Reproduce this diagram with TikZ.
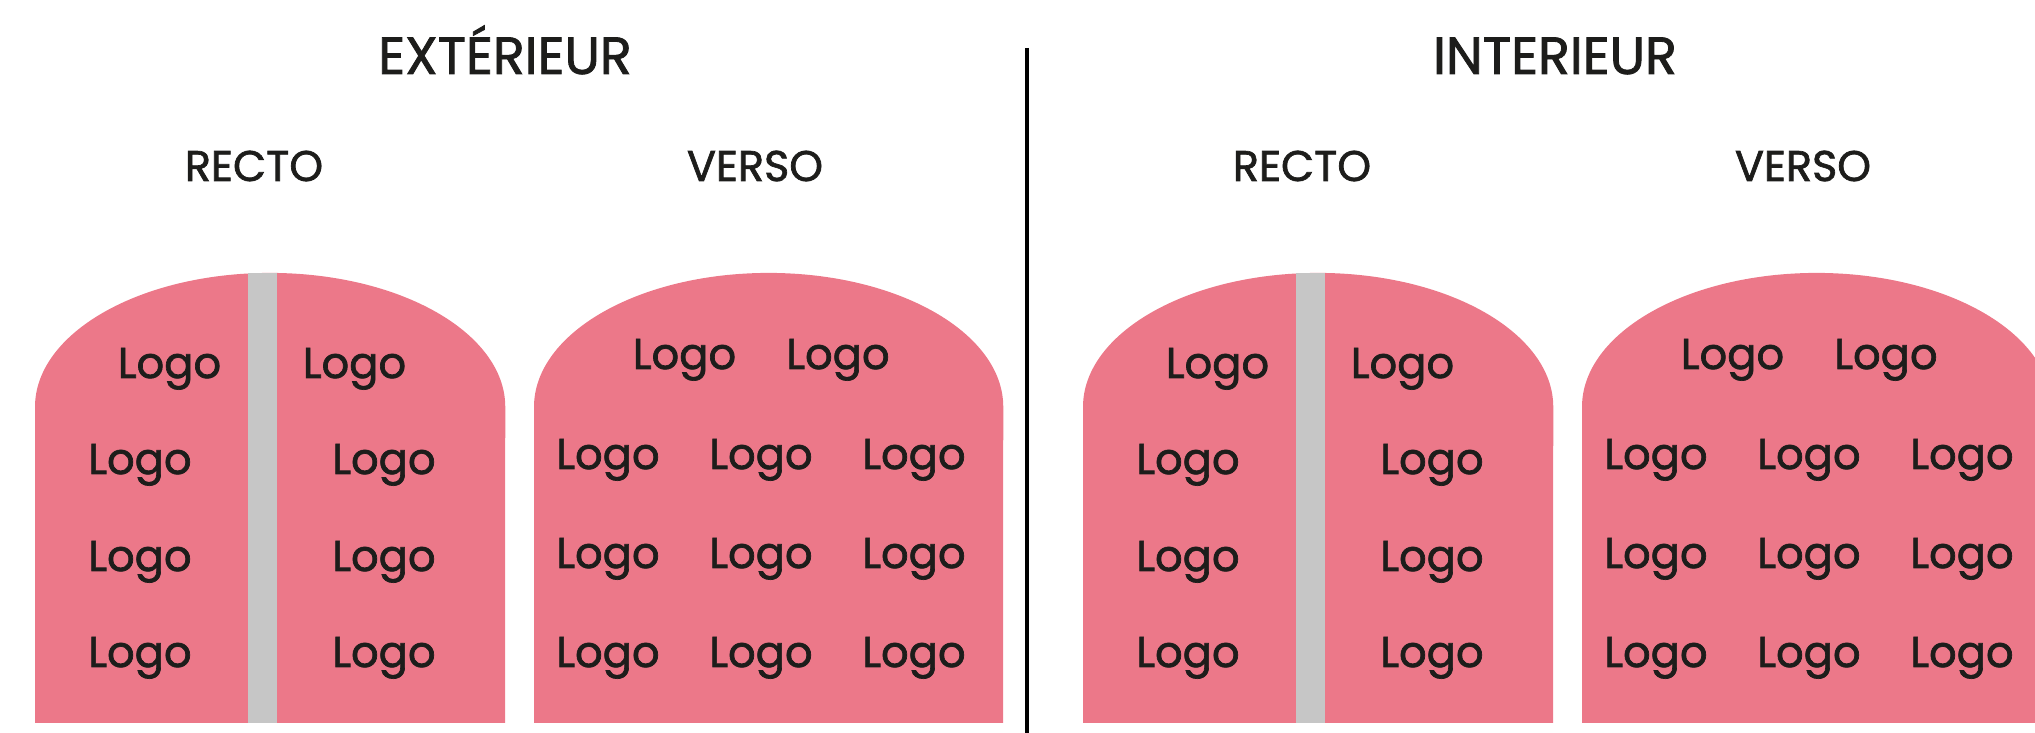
\documentclass[tikz,border=0pt]{standalone}
\usepackage{fontspec}
\setmainfont{Poppins}[FakeBold=1.6]
\usetikzlibrary{positioning}
\definecolor{rose}{HTML}{EC7889}
\definecolor{spine}{HTML}{C6C6C6}
\definecolor{ink}{HTML}{1D1D1B}

\begin{document}
\begin{tikzpicture}[
    x=0.01cm, y=0.01cm,
    title/.style={anchor=base, inner sep=0, text=ink, font=\fontsize{14.9}{16}\selectfont},
    side/.style={anchor=base, inner sep=0, text=ink, font=\fontsize{12.2}{14}\selectfont},
    logo/.style={anchor=base, inner sep=0, text=ink, font=\fontsize{12.3}{14}\selectfont}
]
\useasboundingbox (0,0) rectangle (2035,733);
\clip (0,0) rectangle (2035,733);

% both halves: exterieur, then interieur
\foreach \dx/\pre in {0/e,1048/i} {
\begin{scope}[shift={(\dx,0)}]
    % recto panel with spine
    \fill[rose] (35,10) -- (35,326) arc[start angle=180, end angle=0, x radius=2.35cm, y radius=1.34cm] -- (505,10) -- cycle;
    \fill[spine] (248,10) rectangle (277,460);
    % verso panel
    \fill[rose] (534,10) -- (534,326) arc[start angle=180, end angle=0, x radius=2.345cm, y radius=1.34cm] -- (1003,10) -- cycle;

    \node[side] (\pre-recto) at (254,552) {RECTO};
    \node[side] (\pre-verso) at (755,552) {VERSO};

    \node[logo] (\pre-r1a) at (169.5,355) {Logo};
    \node[logo] (\pre-r1b) at (354.5,355) {Logo};
    \foreach \y [count=\k from 2] in {259,162,66} {
        \node[logo] (\pre-r\k a) at (140,\y) {Logo};
        \node[logo] (\pre-r\k b) at (384,\y) {Logo};
    }

    \node[logo] (\pre-v1a) at (684.5,364) {Logo};
    \node[logo] (\pre-v1b) at (838,364) {Logo};
    \foreach \y [count=\k from 2] in {264,165,66} {
        \node[logo] (\pre-v\k a) at (608,\y) {Logo};
        \node[logo] (\pre-v\k b) at (761,\y) {Logo};
        \node[logo] (\pre-v\k c) at (914,\y) {Logo};
    }
\end{scope}
}

\node[title] (ext) at (505,659) {EXTÉRIEUR};
\node[title] (int) at (1555,659) {INTERIEUR};

% separator
\coordinate (sep-top) at (1027,685);
\coordinate (sep-bot) at (1027,0);
\draw[line width=0.9pt, black] (sep-top) -- (sep-bot);
\end{tikzpicture}
\end{document}
